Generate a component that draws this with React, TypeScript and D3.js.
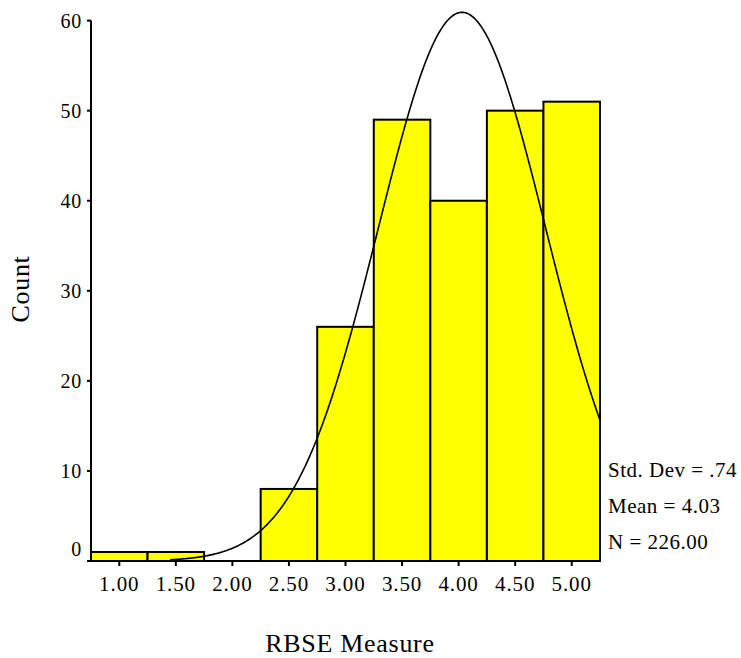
import React from "react";
import * as d3 from "d3";

const binCenters = [1.0, 1.5, 2.0, 2.5, 3.0, 3.5, 4.0, 4.5, 5.0];
const counts = [1, 1, 0, 8, 26, 49, 40, 50, 51];
const xTickLabels = ["1.00", "1.50", "2.00", "2.50", "3.00", "3.50", "4.00", "4.50", "5.00"];
const yTicks = [0, 10, 20, 30, 40, 50, 60];
const stats = ["Std. Dev = .74", "Mean = 4.03", "N = 226.00"];
const mean = 4.03;
const sd = 0.74;
const n = 226;
const binWidth = 0.5;

export default function App() {
  const W = 741, H = 658;
  const x = d3.scaleLinear().domain([0.75, 5.25]).range([91, 600]);
  const y = d3.scaleLinear().domain([0, 60]).range([561, 20.6]);
  const font = "'Liberation Serif', 'Times New Roman', serif";

  const pdf = (v: number) =>
    (n * binWidth) / (sd * Math.sqrt(2 * Math.PI)) * Math.exp(-0.5 * ((v - mean) / sd) ** 2);
  const xs = d3.range(1.45, 5.2501, 0.01);
  const line = d3.line<number>().x((v) => x(v)).y((v) => y(pdf(v)));

  return (
    <div style={{ position: "absolute", left: 0, top: 0 }}>
      <svg width={W} height={H} style={{ display: "block", background: "#fff" }}>
        {counts.map((c, i) => (
          <rect
            key={i}
            x={x(binCenters[i] - binWidth / 2)}
            y={y(c)}
            width={x(binCenters[i] + binWidth / 2) - x(binCenters[i] - binWidth / 2)}
            height={y(0) - y(c)}
            fill="#ffff00"
            stroke="#000"
            strokeWidth={2}
          />
        ))}
        <path d={line(xs) || ""} fill="none" stroke="#000" strokeWidth={1.6} />
        {/* axes */}
        <line x1={91} x2={91} y1={y(60)} y2={y(0)} stroke="#000" strokeWidth={2} />
        <line x1={87} x2={600} y1={y(0)} y2={y(0)} stroke="#000" strokeWidth={2} />
        {yTicks.map((t) => (
          <g key={t}>
            <line x1={87} x2={91} y1={y(t)} y2={y(t)} stroke="#000" strokeWidth={2} />
            <text
              x={82}
              y={t === 0 ? y(t) - 12 : y(t)}
              dy="0.35em"
              textAnchor="end"
              fontFamily={font}
              fontSize={20}
              letterSpacing={0.8}
              fill="#000"
            >
              {t}
            </text>
          </g>
        ))}
        {binCenters.map((b, i) => (
          <g key={b}>
            <line x1={x(b)} x2={x(b)} y1={y(0)} y2={y(0) + 5} stroke="#000" strokeWidth={2} />
            <text
              x={x(b)}
              y={591}
              textAnchor="middle"
              fontFamily={font}
              fontSize={21}
              letterSpacing={0.9}
              fill="#000"
            >
              {xTickLabels[i]}
            </text>
          </g>
        ))}
        {stats.map((s, i) => (
          <text
            key={s}
            x={608}
            y={477 + i * 35.8}
            fontFamily={font}
            fontSize={21}
            letterSpacing={0.5}
            fill="#000"
          >
            {s}
          </text>
        ))}
        <text
          x={350}
          y={652}
          textAnchor="middle"
          fontFamily={font}
          fontSize={26}
          letterSpacing={0.7}
          fill="#000"
        >
          RBSE Measure
        </text>
        <text
          transform="translate(28.5,289) rotate(-90)"
          textAnchor="middle"
          fontFamily={font}
          fontSize={26}
          letterSpacing={0.7}
          fill="#000"
        >
          Count
        </text>
      </svg>
    </div>
  );
}
